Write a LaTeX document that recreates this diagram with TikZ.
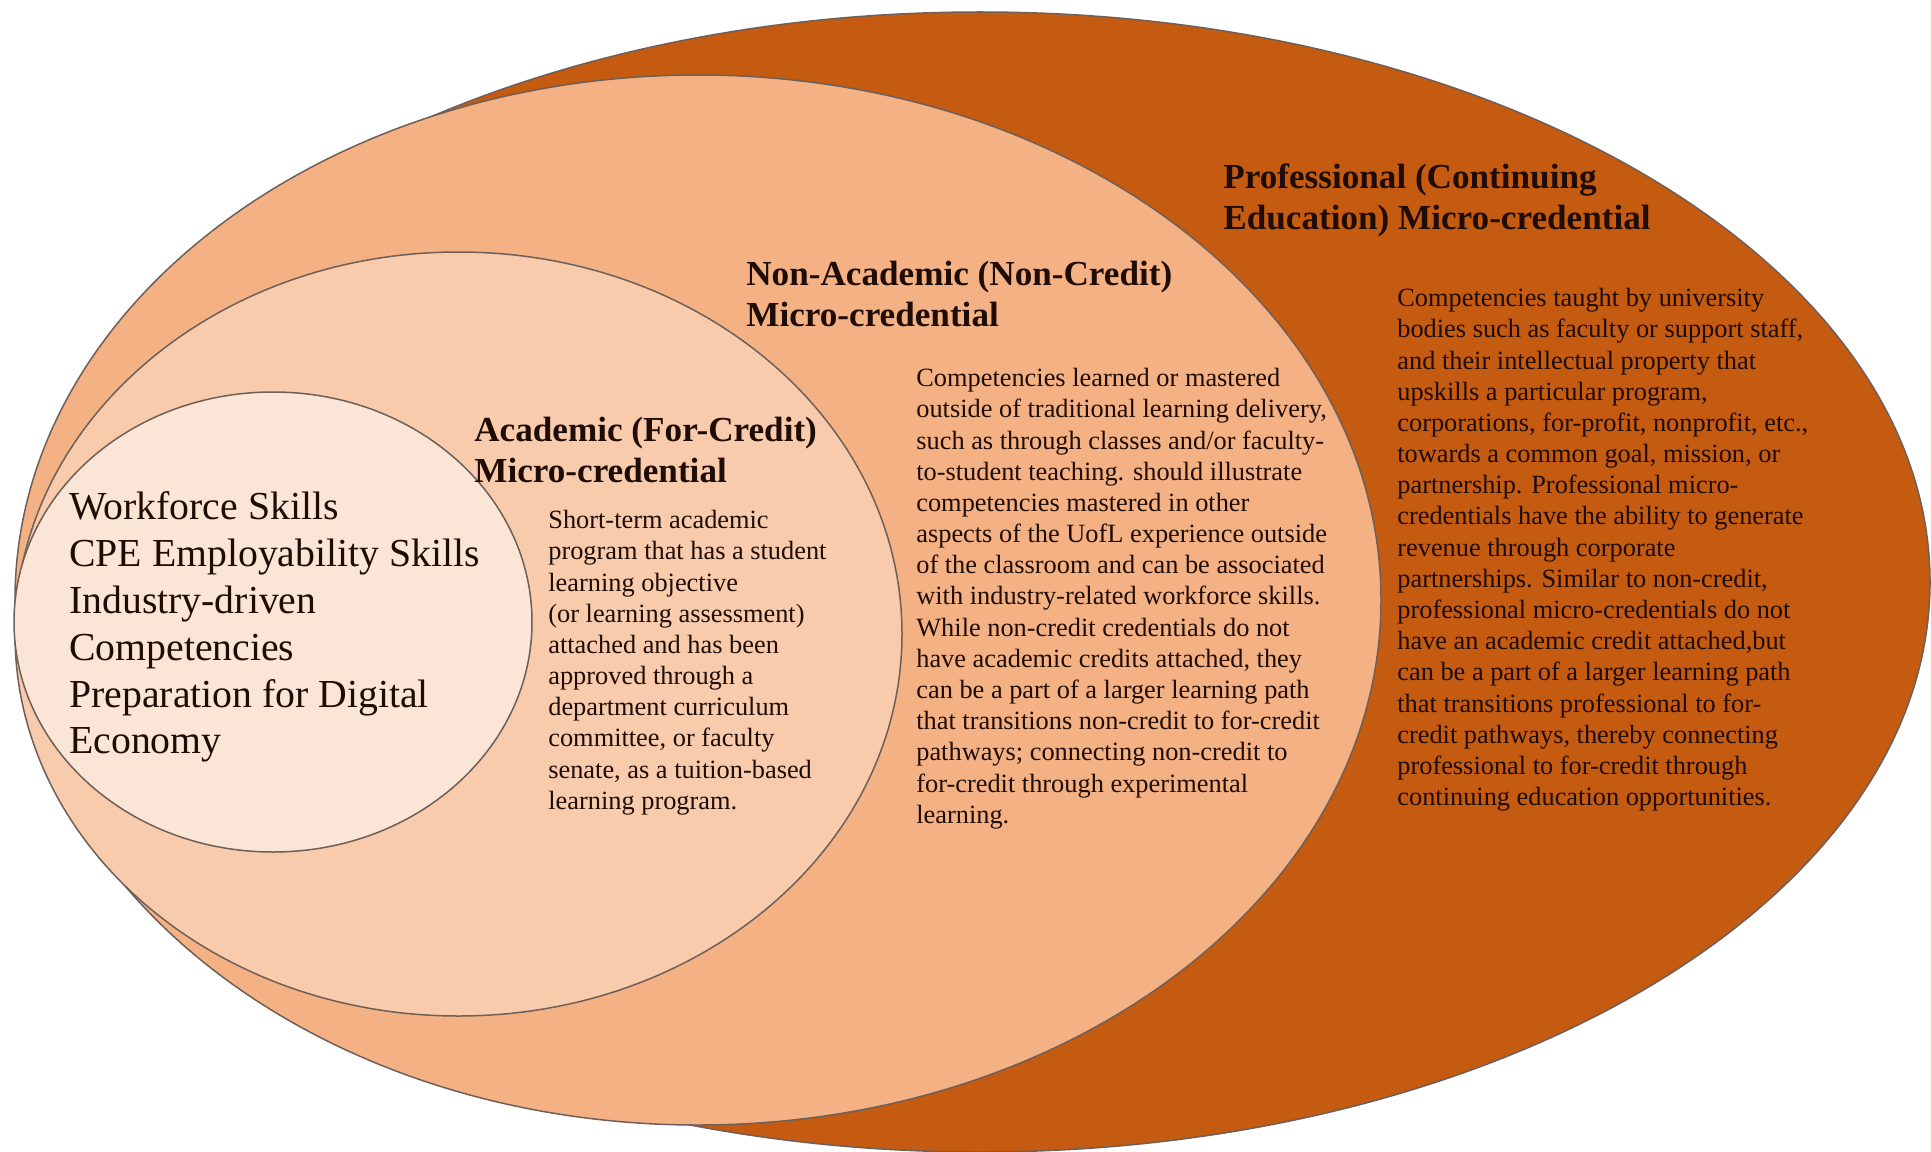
\documentclass[tikz,border=0pt]{standalone}
\usepackage{fontspec}
\setmainfont{Liberation Serif}
\definecolor{profdark}{RGB}{197,90,17}
\definecolor{nonacad}{RGB}{244,177,131}
\definecolor{acad}{RGB}{248,203,173}
\definecolor{skillpale}{RGB}{251,229,214}
\definecolor{rim}{RGB}{110,95,88}
\definecolor{ink}{RGB}{30,12,5}
\def\ring[#1](#2)(#3:#4){\draw[#1] (#2) ellipse [x radius=#3, y radius=#4];}
\tikzset{
  rimline/.style={draw=rim, line width=0.3mm},
  heading/.style={anchor=north west, inner sep=0pt, align=left, text=ink, font=\fontsize{20}{23.3}\selectfont\bfseries},
  bodytext/.style={anchor=north west, inner sep=0pt, align=left, text=ink, font=\fontsize{15}{17.75}\selectfont},
  skilltext/.style={anchor=north west, inner sep=0pt, align=left, text=ink, font=\fontsize{22.6}{26.7}\selectfont}
}

\begin{document}
\begin{tikzpicture}[x=0.2mm, y=-0.2mm]
			%%%%% START %%%%%
			\useasboundingbox (0, 0) rectangle (1931, 1152);
			
			\ring[rimline, fill=profdark](980, 582)(950:570)
			\ring[rimline, fill=nonacad](698, 600)(683:525)
			\ring[rimline, fill=acad](458.5, 634)(443.5:382)
			\ring[rimline, fill=skillpale](273, 622)(259:230)
			
			\node[heading] (proftitle) at (1223, 163) {Professional (Continuing\\Education) Micro-credential};
			\node[bodytext] (proftext) at (1397, 288) {Competencies taught by university\\bodies such as faculty or support staff,\\and their intellectual property that\\upskills a particular program,\\corporations, for-profit, nonprofit, etc.,\\towards a common goal, mission, or\\partnership. Professional micro-\\credentials have the ability to generate\\revenue through corporate\\partnerships. Similar to non-credit,\\professional micro-credentials do not\\have an academic credit attached,but\\can be a part of a larger learning path\\that transitions professional to for-\\credit pathways, thereby connecting\\professional to for-credit through\\continuing education opportunities.};
			
			\node[heading] (nonacadtitle) at (746, 261) {Non-Academic (Non-Credit)\\Micro-credential};
			\node[bodytext] (nonacadtext) at (916, 368) {Competencies learned or mastered\\outside of traditional learning delivery,\\such as through classes and/or faculty-\\to-student teaching. should illustrate\\competencies mastered in other\\aspects of the UofL experience outside\\of the classroom and can be associated\\with industry-related workforce skills.\\While non-credit credentials do not\\have academic credits attached, they\\can be a part of a larger learning path\\that transitions non-credit to for-credit\\pathways; connecting non-credit to\\for-credit through experimental\\learning.};
			
			\node[heading] (acadtitle) at (474, 417) {Academic (For-Credit)\\Micro-credential};
			\node[bodytext] (acadtext) at (548, 510) {Short-term academic\\program that has a student\\learning objective\\(or learning assessment)\\attached and has been\\approved through a\\department curriculum\\committee, or faculty\\senate, as a tuition-based\\learning program.};
			
			\node[skilltext] (skills) at (69, 491) {Workforce Skills\\CPE Employability Skills\\Industry-driven\\Competencies\\Preparation for Digital\\Economy};
			%%%%% END %%%%%
\end{tikzpicture}
\end{document}
